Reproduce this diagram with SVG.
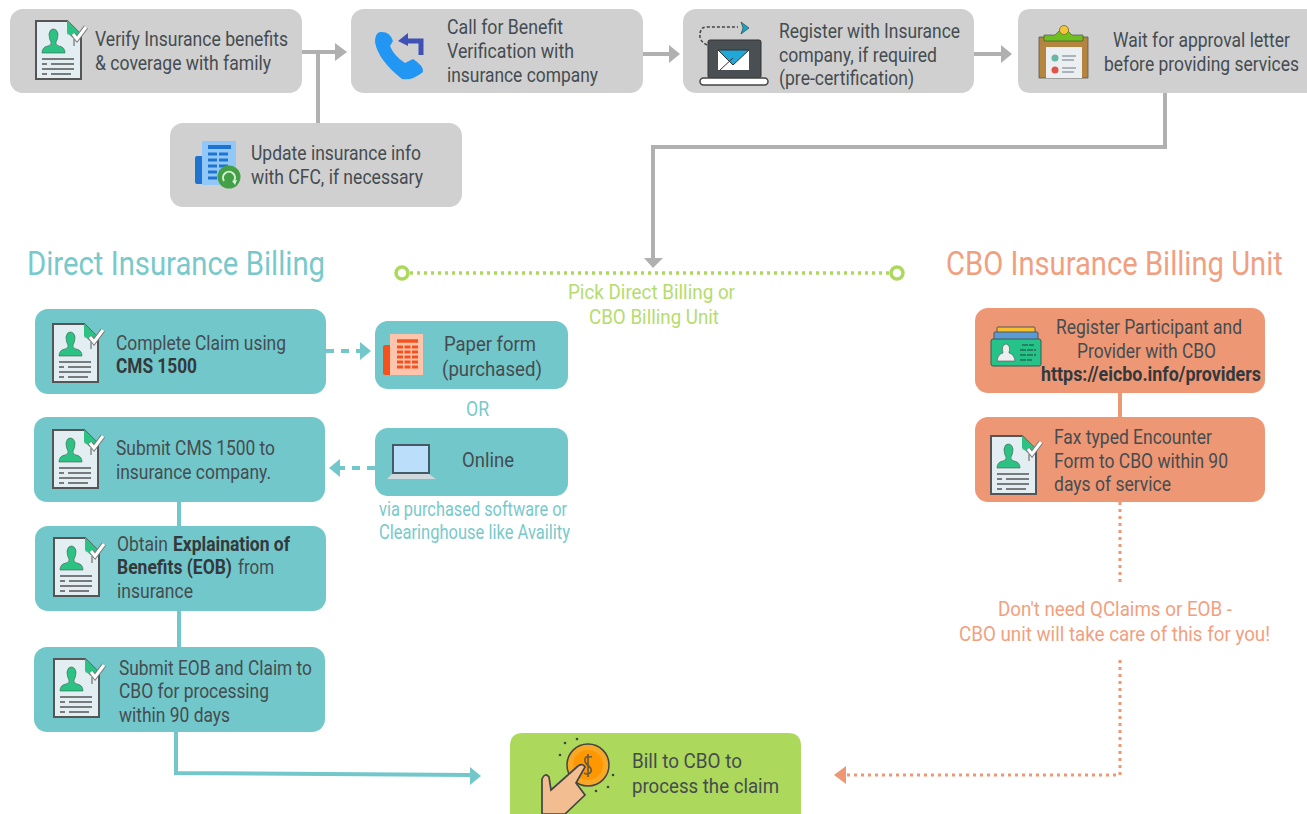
<svg xmlns="http://www.w3.org/2000/svg" width="1307" height="814" viewBox="0 0 1307 814">
<style>
text{font-family:"Roboto","Liberation Sans",sans-serif;font-size:19.5px;fill:#454c50}
.b{font-weight:700;fill:#33393c}
.h{font-size:34px}
.tc{fill:#78c9cb}.oc{fill:#f29f80}.gc{fill:#b5dc6d}
.gray{fill:#d0d0d0}.teal{fill:#72c7ca}.org{fill:#ee9775}.grn{fill:#acd85c}
.cg{fill:none;stroke:#b0b0b0;stroke-width:4}
.ct{fill:none;stroke:#72c7ca;stroke-width:4}
.co{fill:none;stroke:#ee9775;stroke-width:4}
.dash{stroke-dasharray:8 7}
.dots{stroke-width:3;stroke-dasharray:3 4}
</style>
<defs>
<symbol id="doc" viewBox="0 0 54 62" width="54" height="62" overflow="visible">
<path d="M1,2H32L46,16V60H1Z" fill="#e3eef2" stroke="#555" stroke-width="2"/>
<path d="M32,2L46,16H32Z" fill="#c5d2d8"/>
<path d="M32,2L45,14L38,19L32,14Z" fill="#2cc284"/>
<path d="M7,34Q7,28 13,27Q17,26 16,23Q14,20 14,15Q15,10 18,10Q22,10 23,15Q23,20 21,23Q20,26 24,27Q30,28 30,34Z" fill="#2cc284" stroke="#3a5a50" stroke-width=".6"/>
<path d="M7,40H39M7,45H12M16,45H39M7,50H39M7,55H12M16,55H36" stroke="#555" stroke-width="1.5" fill="none"/>
<path d="M38,15L42,20L51,8" stroke="#777" stroke-width="5" fill="none"/>
<path d="M38,15L42,20L51,8" stroke="#fff" stroke-width="3" fill="none"/>
<path d="M39,20V27" stroke="#888" stroke-width="1.5"/>
</symbol>
</defs>

<g id="connectors">
<path class="cg" d="M302,52H335M318,52V123"/><path fill="#b0b0b0" d="M335,43L347,52L335,61Z"/>
<path class="cg" d="M643,54H669"/><path fill="#b0b0b0" d="M669,45L680,54L669,63Z"/>
<path class="cg" d="M974,54H1001"/><path fill="#b0b0b0" d="M1001,45L1012,54L1001,63Z"/>
<path class="cg" d="M1165,93V147H653V258"/><path fill="#b0b0b0" d="M644,258H663L653,268Z"/>
<path d="M410,273H889" fill="none" stroke="#acd85c" stroke-width="3.5" stroke-dasharray="3 4"/>
<circle cx="402" cy="273" r="6" fill="#fff" stroke="#acd85c" stroke-width="3.5"/>
<circle cx="897" cy="273" r="6" fill="#fff" stroke="#acd85c" stroke-width="3.5"/>
<path class="ct dash" d="M326,351H360"/><path fill="#72c7ca" d="M360,342L371,351L360,360Z"/>
<path class="ct dash" d="M375,468H340"/><path fill="#72c7ca" d="M340,459L329,468L340,477Z"/>
<path class="ct" d="M179,502V526M179,611V647M176,732V773L470,775"/><path fill="#72c7ca" d="M470,767L481,776L470,785Z"/>
<path class="co" d="M1120,393V417"/>
<path class="co dots" d="M1120,502V585M1120,660V775H846"/><path fill="#ee9775" d="M846,766L834,775L846,784Z"/>
</g>

<g id="verify"><rect class="gray" x="10" y="9" width="292" height="84" rx="13"/><use href="#doc" x="35" y="19"/>
<text x="95" y="46" textLength="193" lengthAdjust="spacingAndGlyphs">Verify Insurance benefits</text>
<text x="95" y="70" textLength="176" lengthAdjust="spacingAndGlyphs">&amp; coverage with family</text></g>

<g id="call"><rect class="gray" x="351" y="9" width="292" height="84" rx="13"/>
<path d="M380,32Q375,33 375,42Q378,60 402,79Q412,81 423,72Q424,66 413,59L405,63Q394,56 390,46L393,41Q390,31 380,32Z" fill="#2196f3"/>
<path d="M421,55V41H404" fill="none" stroke="#3f51b5" stroke-width="5"/><path d="M408,33L398,41L408,46Z" fill="#3f51b5"/>
<text x="447" y="34" textLength="116" lengthAdjust="spacingAndGlyphs">Call for Benefit</text>
<text x="447" y="58" textLength="127" lengthAdjust="spacingAndGlyphs">Verification with</text>
<text x="447" y="82" textLength="151" lengthAdjust="spacingAndGlyphs">insurance company</text></g>

<g id="register"><rect class="gray" x="683" y="9" width="291" height="84" rx="13"/>
<path d="M707,45Q697,40 701,30Q702,27 708,27H738" fill="none" stroke="#444" stroke-width="1.5" stroke-dasharray="3 2"/>
<path d="M741,22L749,28L741,34L743,28Z" fill="#12a5c9" stroke="#333" stroke-width=".6"/>
<rect x="708" y="40" width="53" height="38" rx="2" fill="#4a4f54" stroke="#333"/>
<rect x="718" y="50" width="31" height="20" fill="#fff"/><path d="M718,50H749L733,65Z" fill="#1fa8d8" stroke="#333"/><path d="M720,70L733,58" stroke="#333" fill="none"/>
<rect x="700" y="78" width="68" height="7" rx="3.5" fill="#fff" stroke="#444" stroke-width="1.5"/>
<text x="779" y="38" textLength="181" lengthAdjust="spacingAndGlyphs">Register with Insurance</text>
<text x="779" y="62" textLength="158" lengthAdjust="spacingAndGlyphs">company, if required</text>
<text x="779" y="85" textLength="135" lengthAdjust="spacingAndGlyphs">(pre-certification)</text></g>

<g id="wait"><path class="gray" d="M1031,9H1307V93H1031Q1018,93 1018,80V22Q1018,9 1031,9Z"/>
<path d="M1039,78V37H1088V78Z" fill="#b5853f" stroke="#555" stroke-width=".8"/><rect x="1046" y="47" width="36" height="31" fill="#eceff1"/>
<path d="M1044,41V35H1055L1059,31H1068L1072,35H1083V41Z" fill="#6fbf1f" stroke="#444" stroke-width=".6"/>
<circle cx="1064" cy="30" r="4.5" fill="#f3c63c" stroke="#8a7a30"/>
<circle cx="1055" cy="58" r="3.5" fill="#68b7a5"/><circle cx="1055" cy="70" r="3.5" fill="#e0544a"/>
<path d="M1062,56H1076M1062,60H1074M1062,68H1076M1062,72H1074" stroke="#aab4ba" stroke-width="2"/>
<text transform="translate(1113 47) scale(.88 1)" textLength="201" lengthAdjust="spacingAndGlyphs">Wait for approval letter</text>
<text transform="translate(1104 71) scale(.88 1)" textLength="221.6" lengthAdjust="spacingAndGlyphs">before providing services</text></g>

<g id="update"><rect class="gray" x="170" y="123" width="292" height="84" rx="13"/>
<rect x="195" y="156" width="12" height="28" rx="2" fill="#1f74d1"/>
<rect x="202" y="141" width="34" height="44" fill="#91c8f7"/>
<path d="M208,147H231" stroke="#1f74d1" stroke-width="4"/>
<path d="M208,154H230M208,160H230M208,166H230M208,172H224M208,178H220" stroke="#1f74d1" stroke-width="3" stroke-dasharray="9 2"/>
<circle cx="229" cy="177" r="11.5" fill="#43a047"/><path d="M224,181A6,6 0 1 1 234,181" fill="none" stroke="#d8efd8" stroke-width="2"/><path d="M232,181L235,185L237,180Z" fill="#d8efd8"/>
<text x="251" y="160" textLength="170" lengthAdjust="spacingAndGlyphs">Update insurance info</text>
<text x="251" y="184" textLength="172" lengthAdjust="spacingAndGlyphs">with CFC, if necessary</text></g>

<g id="direct-title"><text class="h tc" x="27" y="275" textLength="298" lengthAdjust="spacingAndGlyphs">Direct Insurance Billing</text></g>
<g id="cbo-title"><text class="h oc" transform="translate(946 275) scale(.8 1)" textLength="421" lengthAdjust="spacingAndGlyphs">CBO Insurance Billing Unit</text></g>
<g id="pick"><text class="gc" x="568" y="299" textLength="167" lengthAdjust="spacingAndGlyphs">Pick Direct Billing or</text>
<text class="gc" x="589" y="324" textLength="130" lengthAdjust="spacingAndGlyphs">CBO Billing Unit</text></g>

<g id="complete"><rect class="teal" x="35" y="309" width="291" height="85" rx="13"/><use href="#doc" x="52" y="322"/>
<text x="116" y="350" textLength="170" lengthAdjust="spacingAndGlyphs">Complete Claim using</text>
<text class="b" x="116" y="373" textLength="81" lengthAdjust="spacingAndGlyphs">CMS 1500</text></g>

<g id="paper"><rect class="teal" x="375" y="321" width="193" height="68" rx="13"/>
<rect x="383" y="345" width="12" height="30" rx="2" fill="#f4511e"/>
<rect x="390" y="334" width="33" height="41" fill="#ffc5ac"/>
<path d="M397,341H418" stroke="#f4511e" stroke-width="3.5"/>
<path d="M397,347H418M397,352H418M397,357H418M397,362H418M397,367H418" stroke="#f4511e" stroke-width="3" stroke-dasharray="6 1.5"/>
<text x="444" y="351" textLength="92" lengthAdjust="spacingAndGlyphs">Paper form</text>
<text x="442" y="376" textLength="100" lengthAdjust="spacingAndGlyphs">(purchased)</text></g>

<g id="or"><text class="tc" x="466" y="416" textLength="23" lengthAdjust="spacingAndGlyphs">OR</text></g>

<g id="online"><rect class="teal" x="375" y="428" width="193" height="68" rx="13"/>
<rect x="393" y="445" width="36" height="28" fill="#bbdefb" stroke="#455a64" stroke-width="2"/>
<path d="M392,474H429L436,479H387Z" fill="#cfd8dc"/>
<text x="462" y="467" textLength="52" lengthAdjust="spacingAndGlyphs">Online</text></g>
<g id="via"><text class="tc" x="379" y="516" textLength="188" lengthAdjust="spacingAndGlyphs">via purchased software or</text>
<text class="tc" x="379" y="539" textLength="191" lengthAdjust="spacingAndGlyphs">Clearinghouse like Availity</text></g>

<g id="submit"><rect class="teal" x="34" y="417" width="291" height="85" rx="13"/><use href="#doc" x="52" y="428"/>
<text x="116" y="455" textLength="159" lengthAdjust="spacingAndGlyphs">Submit CMS 1500 to</text>
<text x="116" y="479" textLength="155" lengthAdjust="spacingAndGlyphs">insurance company.</text></g>

<g id="obtain"><rect class="teal" x="35" y="526" width="291" height="85" rx="13"/><use href="#doc" x="53" y="536"/>
<text transform="translate(117 551) scale(.85 1)" textLength="60" lengthAdjust="spacingAndGlyphs">Obtain</text>
<text class="b" transform="translate(173 551) scale(.85 1)" textLength="137.6" lengthAdjust="spacingAndGlyphs">Explaination of</text>
<text class="b" transform="translate(117 574) scale(.85 1)" textLength="135.3" lengthAdjust="spacingAndGlyphs">Benefits (EOB)</text>
<text transform="translate(238 574) scale(.85 1)" textLength="42.4" lengthAdjust="spacingAndGlyphs">from</text>
<text x="117" y="598" textLength="76" lengthAdjust="spacingAndGlyphs">insurance</text></g>

<g id="submit-eob"><rect class="teal" x="34" y="647" width="291" height="85" rx="13"/><use href="#doc" x="53" y="657"/>
<text x="119" y="675" textLength="193" lengthAdjust="spacingAndGlyphs">Submit EOB and Claim to</text>
<text x="119" y="698" textLength="150" lengthAdjust="spacingAndGlyphs">CBO for processing</text>
<text x="119" y="722" textLength="111" lengthAdjust="spacingAndGlyphs">within 90 days</text></g>

<g id="register-cbo"><rect class="org" x="975" y="308" width="290" height="85" rx="13"/>
<rect x="997" y="327" width="38" height="8" rx="1" fill="#f6c02d" stroke="#555"/>
<rect x="994" y="332" width="44" height="8" rx="1" fill="#5a9bd5" stroke="#555"/>
<rect x="991" y="339" width="50" height="27" rx="2" fill="#25c28a" stroke="#3a5a50"/>
<path d="M997,361Q998,354 1003,353Q1001,345 1006,344Q1011,345 1009,353Q1014,354 1015,361Z" fill="#eee" stroke="#555" stroke-width=".6"/>
<path d="M1020,350H1036M1020,355H1036M1020,360H1032M1022,345H1034" stroke="#2a6a52" stroke-width="1.5" stroke-dasharray="6 1"/>
<text x="1056" y="334" textLength="186" lengthAdjust="spacingAndGlyphs">Register Participant and</text>
<text x="1077" y="358" textLength="139" lengthAdjust="spacingAndGlyphs">Provider with CBO</text>
<text class="b" x="1041" y="381" textLength="220" lengthAdjust="spacingAndGlyphs">https://eicbo.info/providers</text></g>

<g id="fax"><rect class="org" x="975" y="417" width="290" height="85" rx="13"/><use href="#doc" x="990" y="434"/>
<text x="1054" y="444" textLength="158" lengthAdjust="spacingAndGlyphs">Fax typed Encounter</text>
<text x="1054" y="468" textLength="174" lengthAdjust="spacingAndGlyphs">Form to CBO within 90</text>
<text x="1054" y="491" textLength="117" lengthAdjust="spacingAndGlyphs">days of service</text></g>

<g id="note"><text class="oc" x="998" y="616" textLength="234" lengthAdjust="spacingAndGlyphs">Don't need QClaims or EOB -</text>
<text class="oc" x="959" y="641" textLength="311" lengthAdjust="spacingAndGlyphs">CBO unit will take care of this for you!</text></g>

<g id="bill"><path class="grn" d="M523,733H788Q801,733 801,746V814H510V746Q510,733 523,733Z"/>
<circle cx="588" cy="765" r="21" fill="#f9a825" stroke="#444" stroke-width="1.5"/><circle cx="588" cy="765" r="15" fill="#ff9800"/>
<path d="M592,757Q584,755 585,761Q586,765 589,766Q593,770 590,773Q587,775 584,773M588,754V777" fill="none" stroke="#6a5a3a" stroke-width="1.7"/>
<path d="M542,814V779Q545,772 549,777L551,790L578,766Q583,763 585,767L576,783L585,795L565,814Z" fill="#f3bd92" stroke="#444" stroke-width="1.7"/>
<g fill="#444"><circle cx="565" cy="743" r="1.3"/><circle cx="577" cy="739" r="1.3"/><circle cx="560" cy="755" r="1.3"/><circle cx="613" cy="775" r="1.3"/><circle cx="608" cy="787" r="1.3"/><circle cx="596" cy="791" r="1.3"/></g>
<text x="632" y="768" textLength="110" lengthAdjust="spacingAndGlyphs">Bill to CBO to</text>
<text x="632" y="793" textLength="147" lengthAdjust="spacingAndGlyphs">process the claim</text></g>
</svg>
